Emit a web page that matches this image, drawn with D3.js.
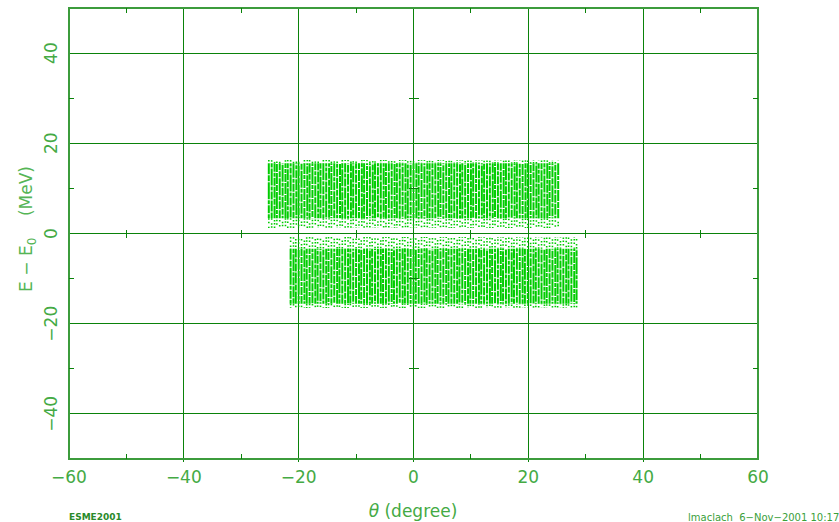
<!DOCTYPE html>
<html><head><meta charset="utf-8">
<script src="https://cdn.jsdelivr.net/npm/d3@7"></script>
<style>
html,body{margin:0;padding:0;background:#fff;}
svg{display:block;}
text{font-family:"DejaVu Sans",sans-serif;}
</style></head>
<body>
<script>
// ---- data ----
const xTicks = [-60, -40, -20, 0, 20, 40, 60];
const yTicks = [-40, -20, 0, 20, 40];
const minorX = [-50, -30, -10, 10, 30, 50];
const minorY = [-30, -10, 10, 30];
const xDomain = [-60, 60];
const yDomain = [-50, 50];

// upper band (E > 0): stripe positions (degree) and energy extents (MeV)
const upperTheta = [-25.2,-24.7,-24.2,-23.8,-23.3,-22.8,-22.3,-21.9,-21.4,-20.9,-20.4,-20.0,-19.5,-19.0,-18.5,-18.1,-17.6,-17.1,-16.6,-16.2,-15.7,-15.2,-14.7,-14.3,-13.8,-13.3,-12.8,-12.4,-11.9,-11.4,-10.9,-10.5,-10.0,-9.5,-9.0,-8.6,-8.1,-7.6,-7.1,-6.7,-6.2,-5.7,-5.2,-4.8,-4.3,-3.8,-3.3,-2.9,-2.4,-1.9,-1.4,-1.0,-0.5,0.0,0.5,0.9,1.4,1.9,2.4,2.8,3.3,3.8,4.3,4.7,5.2,5.7,6.2,6.6,7.1,7.6,8.1,8.5,9.0,9.5,10.0,10.4,10.9,11.4,11.9,12.3,12.8,13.3,13.8,14.2,14.7,15.2,15.7,16.1,16.6,17.1,17.6,18.0,18.5,19.0,19.5,19.9,20.4,20.9,21.4,21.8,22.3,22.8,23.3,23.7,24.2,24.7,25.2];
const upperCore = [3.4, 15.6];
const upperSparse = [[15.6, 16.3], [1.2, 3.4]];

// lower band (E < 0)
const lowerTheta = [-21.4,-20.9,-20.5,-20.0,-19.5,-19.0,-18.6,-18.1,-17.6,-17.1,-16.7,-16.2,-15.7,-15.2,-14.8,-14.3,-13.8,-13.3,-12.9,-12.4,-11.9,-11.4,-11.0,-10.5,-10.0,-9.5,-9.1,-8.6,-8.1,-7.6,-7.2,-6.7,-6.2,-5.7,-5.3,-4.8,-4.3,-3.8,-3.4,-2.9,-2.4,-1.9,-1.5,-1.0,-0.5,0.0,0.4,0.9,1.4,1.9,2.3,2.8,3.3,3.8,4.2,4.7,5.2,5.7,6.1,6.6,7.1,7.6,8.0,8.5,9.0,9.5,9.9,10.4,10.9,11.4,11.8,12.3,12.8,13.3,13.7,14.2,14.7,15.2,15.6,16.1,16.6,17.1,17.5,18.0,18.5,19.0,19.4,19.9,20.4,20.9,21.3,21.8,22.3,22.8,23.2,23.7,24.2,24.7,25.1,25.6,26.1,26.6,27.0,27.5,28.0,28.4];
const lowerCore = [-15.6, -3.4];
const lowerSparse = [[-3.4, -0.8], [-16.5, -15.6]];

// ---- drawing ----
const W = 839, H = 522;
const svg = d3.select("body").append("svg").attr("width", W).attr("height", H);
const x = d3.scaleLinear().domain(xDomain).range([69, 758]);
const y = d3.scaleLinear().domain(yDomain).range([459, 8]);

const gridC = "#0a820a", frameC = "#3c9c3c", labC = "#44aa44", dataC = "#00cc00";

// grid
const g = svg.append("g");
g.selectAll(".gx").data(xTicks.slice(1, -1)).join("line")
  .attr("x1", d => x(d)).attr("x2", d => x(d)).attr("y1", y(50)).attr("y2", y(-50) + 3)
  .attr("stroke", gridC).attr("stroke-width", 1).attr("shape-rendering", "crispEdges");
g.selectAll(".gy").data(yTicks).join("line")
  .attr("y1", d => y(d)).attr("y2", d => y(d)).attr("x1", x(-60)).attr("x2", x(60))
  .attr("stroke", gridC).attr("stroke-width", 1).attr("shape-rendering", "crispEdges");

// data stripes
function band(thetas, core, sparse) {
  const b = svg.append("g");
  b.selectAll(".core").data(thetas).join("line")
    .attr("x1", d => x(d)).attr("x2", d => x(d))
    .attr("y1", y(core[1])).attr("y2", y(core[0]))
    .attr("stroke", dataC).attr("stroke-width", 2)
    .attr("stroke-dasharray", "11,1,6,1,17,1,4,1,8,1")
    .attr("stroke-dashoffset", (d, i) => (i * 13.7) % 51);
  sparse.forEach(s => {
    b.selectAll(null).data(thetas).join("line")
      .attr("x1", d => x(d)).attr("x2", d => x(d))
      .attr("y1", y(s[1])).attr("y2", y(s[0]))
      .attr("stroke", dataC).attr("stroke-width", 1.6)
      .attr("stroke-dasharray", "1.5,2,1.5,3.5,1.5,1.5")
      .attr("stroke-dashoffset", (d, i) => (i * 3.3) % 11.5);
  });
}
band(upperTheta, upperCore, upperSparse);
band(lowerTheta, lowerCore, lowerSparse);

// frame
svg.append("rect").attr("x", x(-60)).attr("y", y(50))
  .attr("width", x(60) - x(-60)).attr("height", y(-50) - y(50))
  .attr("fill", "none").attr("stroke", frameC).attr("stroke-width", 1.2).attr("shape-rendering", "crispEdges");

// minor ticks on frame
const tl = 5;
const t = svg.append("g").attr("stroke", gridC).attr("stroke-width", 1).attr("shape-rendering", "crispEdges");
minorX.forEach(v => {
  t.append("line").attr("x1", x(v)).attr("x2", x(v)).attr("y1", y(-50)).attr("y2", y(-50) - tl);
  t.append("line").attr("x1", x(v)).attr("x2", x(v)).attr("y1", y(50)).attr("y2", y(50) + tl);
  t.append("line").attr("x1", x(v)).attr("x2", x(v)).attr("y1", y(0) - 4).attr("y2", y(0) + 4);
});
minorY.forEach(v => {
  t.append("line").attr("y1", y(v)).attr("y2", y(v)).attr("x1", x(-60)).attr("x2", x(-60) + tl);
  t.append("line").attr("y1", y(v)).attr("y2", y(v)).attr("x1", x(60)).attr("x2", x(60) - tl);
  t.append("line").attr("y1", y(v)).attr("y2", y(v)).attr("x1", x(0) - 5).attr("x2", x(0) + 5);
});

// tick labels
const fmt = d => d < 0 ? "\u2212" + Math.abs(d) : String(d);
svg.append("g").selectAll("text").data(xTicks).join("text")
  .attr("x", d => x(d)).attr("y", 483).attr("text-anchor", "middle")
  .attr("font-size", 17).attr("fill", labC).text(fmt);
svg.append("g").selectAll("text").data(yTicks).join("text")
  .attr("transform", d => `translate(57,${y(d)}) rotate(-90)`).attr("text-anchor", "middle")
  .attr("font-size", 17).attr("fill", labC).text(fmt);

// axis titles
const yt = svg.append("text").attr("transform", "translate(32,229) rotate(-90)")
  .attr("text-anchor", "middle").attr("font-size", 17).attr("fill", "#55b555");
yt.append("tspan").text("E \u2212 E");
yt.append("tspan").attr("font-size", 12).attr("dy", 4).text("0");
yt.append("tspan").attr("dy", -4).attr("xml:space", "preserve").text("\u00a0\u00a0\u00a0\u00a0(MeV)");

const xt = svg.append("text").attr("x", 413).attr("y", 517).attr("text-anchor", "middle")
  .attr("font-size", 17).attr("fill", labC);
xt.append("tspan").attr("font-style", "italic").text("\u03b8");
xt.append("tspan").text(" (degree)");

// footer
svg.append("text").attr("x", 69).attr("y", 520).attr("font-size", 9).attr("font-weight", "bold")
  .attr("fill", "#2a8a2a").text("ESME2001");
svg.append("text").attr("x", 688).attr("y", 521).attr("font-size", 10)
  .attr("fill", "#3aa03a").attr("xml:space", "preserve").text("lmaclach  6\u2212Nov\u22122001 10:17");
</script>
</body></html>
